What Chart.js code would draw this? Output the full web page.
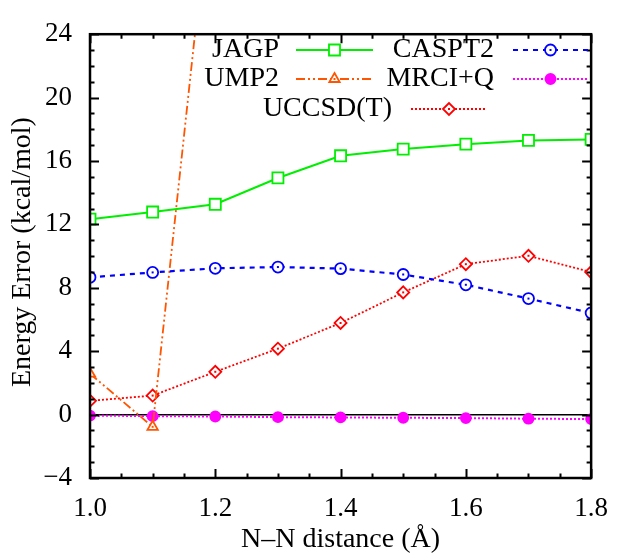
<!DOCTYPE html>
<html>
<head>
<meta charset="utf-8">
<script src="https://cdn.jsdelivr.net/npm/chart.js@4/dist/chart.umd.min.js"></script>
<style>
html,body{margin:0;padding:0;background:#fff;}
#wrap{width:623px;height:555px;position:relative;}
</style>
</head>
<body>
<div id="wrap"><canvas id="c" width="623" height="555"></canvas></div>
<script>
// ---- data ----
const distances = [1.0, 1.1, 1.2, 1.3, 1.4, 1.5, 1.6, 1.7, 1.8];
const jagp      = [12.33, 12.78, 13.27, 14.93, 16.33, 16.75, 17.06, 17.30, 17.36];
const caspt2    = [8.66, 8.97, 9.23, 9.31, 9.21, 8.84, 8.19, 7.32, 6.41];
const ump2      = [2.58, -0.77, 35.9, null, null, null, null, null, null];
const mrciq     = [-0.06, -0.10, -0.12, -0.16, -0.18, -0.20, -0.22, -0.26, -0.28];
const uccsdt    = [0.87, 1.20, 2.70, 4.16, 5.78, 7.71, 9.49, 10.02, 8.99];
const xTicks = [1.0, 1.2, 1.4, 1.6, 1.8];
const yTicks = [-4, 0, 4, 8, 12, 16, 20, 24];
const seriesNames = ['JAGP', 'CASPT2', 'UMP2', 'MRCI+Q', 'UCCSD(T)'];
const xTitle = 'N\u2013N distance (\u00C5)';
const yTitle = 'Energy Error (kcal/mol)';

// pick an installed serif family (measuring also makes sure it is loaded)
const candidates = ['Liberation Serif', 'Tinos', 'Times New Roman', 'Nimbus Roman', 'FreeSerif', 'DejaVu Serif', 'Noto Serif', 'Times'];
let picked = null;
(function () {
  const cv = document.createElement('canvas').getContext('2d');
  const probe = 'JAGP Energy Error 1.0 mmmWWWiii';
  const widthOf = f => { cv.font = '40px ' + f; return cv.measureText(probe).width; };
  const mono = widthOf('monospace'), sans = widthOf('sans-serif');
  for (const c of candidates) {
    const w1 = widthOf('"' + c + '", monospace');
    const w2 = widthOf('"' + c + '", sans-serif');
    if (w1 !== mono && w2 !== sans) { picked = c; break; }
  }
})();
const FONT = (picked ? '"' + picked + '", ' : '') + 'serif';

const pts = arr => distances.map((d, i) => ({x: d, y: arr[i]})).filter(p => p.y !== null);

function ds(label, arr, color, dash, style, radius, fill, bw, dot) {
  return {
    label, data: pts(arr), borderColor: color, borderWidth: bw, borderDash: dash,
    pointStyle: style, pointRadius: radius, pointBorderColor: color,
    pointBackgroundColor: fill, pointBorderWidth: 1.8, pointHoverRadius: radius,
    tension: 0, fill: false, spanGaps: false, centerDot: dot
  };
}

const datasets = [
  ds(seriesNames[0], jagp,   '#00ee00', [],              'rect',     7.8, '#ffffff', 2,   false),
  ds(seriesNames[1], caspt2, '#0000ff', [5, 5],          'circle',   5.5, '#ffffff', 2.2, true),
  ds(seriesNames[2], ump2,   '#ff5500', [9, 3, 2, 3, 2, 3], 'triangle', 6, '#ffffff', 1.8, true),
  ds(seriesNames[3], mrciq,  '#ff00ff', [2, 2],          'circle',   5,   '#ff00ff', 2,   false),
  ds(seriesNames[4], uccsdt, '#ff0000', [2, 2],          'rectRot',  6,   '#ffffff', 1.8, true)
];

const legendLayout = [
  {ds: 0, tx: 279, lx0: 296, lx1: 373, y: 50},
  {ds: 1, tx: 494, lx0: 513, lx1: 588, y: 50},
  {ds: 2, tx: 279, lx0: 296, lx1: 373, y: 79},
  {ds: 3, tx: 494, lx0: 513, lx1: 588, y: 79},
  {ds: 4, tx: 392, lx0: 411, lx1: 487, y: 109}
];

function dot(ctx, x, y, color) {
  ctx.fillStyle = color;
  ctx.fillRect(x - 1, y - 1, 2, 2);
}

const framePlugin = {
  id: 'frame',
  afterDatasetsDraw(chart) {
    const ctx = chart.ctx, a = chart.chartArea;
    ctx.save();
    ctx.beginPath();
    ctx.rect(a.left, a.top, a.right - a.left, a.bottom - a.top);
    ctx.clip();
    chart.data.datasets.forEach((d, i) => {
      if (!d.centerDot) return;
      chart.getDatasetMeta(i).data.forEach(el => dot(ctx, el.x, el.y, d.borderColor));
    });
    ctx.restore();
  },
  afterDraw(chart) {
    const ctx = chart.ctx, a = chart.chartArea, xs = chart.scales.x, ys = chart.scales.y;
    ctx.save();
    ctx.strokeStyle = '#000';
    ctx.lineWidth = 2;
    for (let i = 0; i <= 16; i++) {
      const v = 1.0 + i * 0.05;
      const px = Math.round(xs.getPixelForValue(v)) + 0.5;
      const len = (i % 4 === 0) ? 9 : 4.5;
      ctx.beginPath();
      ctx.moveTo(px, a.bottom); ctx.lineTo(px, a.bottom - len);
      ctx.moveTo(px, a.top); ctx.lineTo(px, a.top + len);
      ctx.stroke();
    }
    for (let v = -4; v <= 24; v++) {
      const py = Math.round(ys.getPixelForValue(v)) + 0.5;
      const len = (v % 4 === 0) ? 9 : 4.5;
      ctx.beginPath();
      ctx.moveTo(a.left, py); ctx.lineTo(a.left + len, py);
      ctx.moveTo(a.right, py); ctx.lineTo(a.right - len, py);
      ctx.stroke();
    }
    ctx.lineWidth = 2.5;
    ctx.strokeRect(a.left, a.top, a.right - a.left, a.bottom - a.top);

    ctx.fillStyle = '#000';
    ctx.font = '28px ' + FONT;
    ctx.textAlign = 'center';
    ctx.textBaseline = 'middle';
    ctx.fillText(xTitle, (a.left + a.right) / 2, 540);
    ctx.save();
    ctx.translate(23, (a.top + a.bottom) / 2 - 4);
    ctx.rotate(-Math.PI / 2);
    ctx.fillText(yTitle, 0, 0);
    ctx.restore();

    ctx.textAlign = 'right';
    legendLayout.forEach(L => {
      const d = chart.data.datasets[L.ds];
      const cx = (L.lx0 + L.lx1) / 2;
      ctx.fillStyle = '#000';
      ctx.fillText(d.label, L.tx, L.y);
      ctx.save();
      ctx.strokeStyle = d.borderColor;
      ctx.lineWidth = d.borderWidth;
      ctx.setLineDash(d.borderDash);
      ctx.beginPath();
      ctx.moveTo(L.lx0, L.y); ctx.lineTo(L.lx1, L.y);
      ctx.stroke();
      ctx.setLineDash([]);
      ctx.strokeStyle = d.pointBorderColor;
      ctx.fillStyle = d.pointBackgroundColor;
      ctx.lineWidth = d.pointBorderWidth;
      Chart.helpers.drawPoint(ctx, {pointStyle: d.pointStyle, radius: d.pointRadius, rotation: 0, borderWidth: d.pointBorderWidth}, cx, L.y);
      if (d.centerDot) dot(ctx, cx, L.y, d.borderColor);
      ctx.restore();
    });
    ctx.restore();
  }
};

new Chart(document.getElementById('c'), {
  type: 'line',
  data: {datasets},
  options: {
    responsive: false,
    animation: false,
    events: [],
    layout: {padding: {top: 18, right: 22, left: 0, bottom: 0}},
    plugins: {legend: {display: false}, tooltip: {enabled: false}},
    scales: {
      x: {
        type: 'linear', min: 1.0, max: 1.8,
        afterFit: s => { s.height = 77; },
        afterBuildTicks: s => { s.ticks = xTicks.map(v => ({value: v})); },
        grid: {display: false, drawTicks: false},
        border: {display: false},
        ticks: {padding: 15, color: '#000', font: {family: FONT, size: 27}, maxRotation: 0,
                callback: v => Number(v).toFixed(1)}
      },
      y: {
        type: 'linear', min: -4, max: 24,
        afterFit: s => { s.width = 90; },
        afterBuildTicks: s => { s.ticks = yTicks.map(v => ({value: v})); },
        grid: {drawTicks: false, lineWidth: 1.6,
               color: c => (c.tick && c.tick.value === 0) ? '#000' : 'rgba(0,0,0,0)'},
        border: {display: false},
        ticks: {padding: 18, color: '#000', font: {family: FONT, size: 27},
                callback: v => (v < 0 ? '\u2212' + Math.abs(v) : String(v))}
      }
    }
  },
  plugins: [framePlugin]
});
</script>
</body>
</html>
